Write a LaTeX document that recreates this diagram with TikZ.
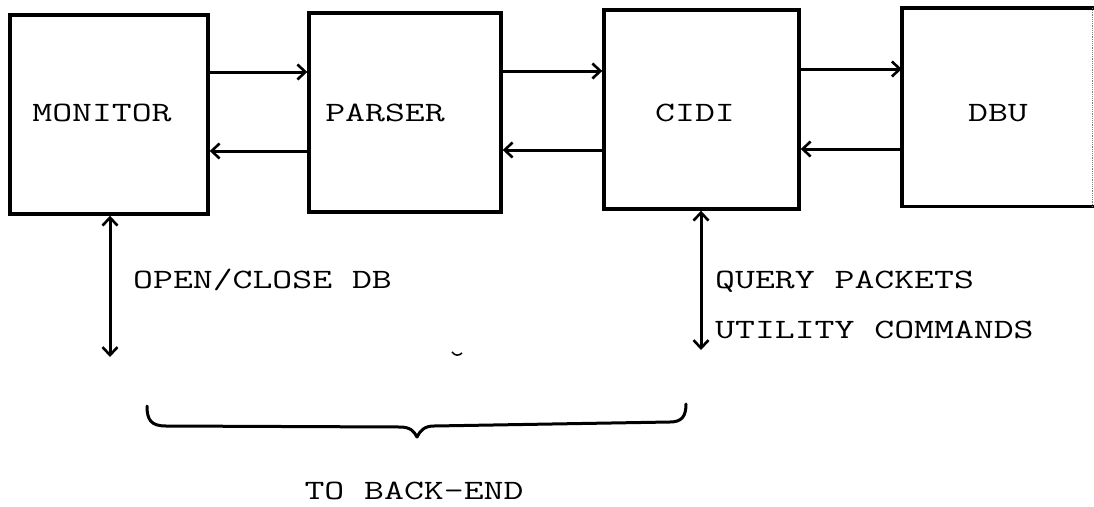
\documentclass[tikz,border=0pt]{standalone}
\usepackage{fontspec}
\usetikzlibrary{arrows.meta}
\newcommand{\twtext}[1]{\scalebox{1.38}[1]{\ttfamily\fontsize{28}{32}\selectfont #1}}
\begin{document}
\begin{tikzpicture}[x=1pt,y=-1pt,
  box/.style={draw,line width=3.4pt,inner sep=0pt},
  txt/.style={inner sep=0pt},
  tipb/.tip={Straight Barb[length=8pt,width=15pt,line width=2.6pt]},
  arr/.style={line width=3pt,-tipb},
  darr/.style={line width=3pt,tipb-tipb}]
\useasboundingbox (0,0) rectangle (1094,506);
% boxes
\node[box,minimum width=198pt,minimum height=199pt] (mon) at (109,114.5) {};
\node[box,minimum width=192pt,minimum height=199pt] (par) at (405,112.5) {};
\node[box,minimum width=195pt,minimum height=199pt] (cid) at (701.5,109.5) {};
\node[inner sep=0pt,minimum width=190pt,minimum height=198pt] (dbu) at (997,107) {};
\draw[line width=3.4pt,line cap=rect] (dbu.north east) -- (dbu.north west) -- (dbu.south west) -- (dbu.south east);
\draw[line width=1.2pt,densely dotted,gray] (dbu.north east) -- (dbu.south east);
% box texts
\node[txt,anchor=base] (montxt) at (102,121.5) {\twtext{MONITOR}};
\node[txt,anchor=base] (partxt) at (385,121.5) {\twtext{PARSER}};
\node[txt,anchor=base] (cidtxt) at (695,121.5) {\twtext{CIDI}};
\node[txt,anchor=base] (dbutxt) at (998,121.5) {\twtext{DBU}};
% arrow levels
\coordinate (a1) at (0,72);
\coordinate (b1) at (0,151);
\coordinate (a2) at (0,71);
\coordinate (b2) at (0,150);
\coordinate (a3) at (0,69);
\coordinate (b3) at (0,149);
\draw[arr] (mon.east |- a1) -- (par.west |- a1);
\draw[arr] (par.west |- b1) -- (mon.east |- b1);
\draw[arr] (par.east |- a2) -- (cid.west |- a2);
\draw[arr] (cid.west |- b2) -- (par.east |- b2);
\draw[arr] (cid.east |- a3) -- (dbu.west |- a3);
\draw[arr] (dbu.west |- b3) -- (cid.east |- b3);
% vertical arrows
\coordinate (monend) at (110,357);
\coordinate (cidend) at (701,350);
\draw[darr] (mon.south -| monend) -- (monend);
\draw[darr] (cid.south -| cidend) -- (cidend);
% labels
\node[txt,anchor=base west] (l1) at (133,288) {\twtext{OPEN/CLOSE DB}};
\node[txt,anchor=base west] (l2) at (715,288) {\twtext{QUERY PACKETS}};
\node[txt,anchor=base west] (l3) at (715,338) {\twtext{UTILITY COMMANDS}};
\node[txt,anchor=base] (l4) at (414,499) {\twtext{TO BACK-END}};
% brace
\draw[line width=3pt,line cap=round,line join=round]
  (147,406) .. controls (147,420) and (151,426) .. (166,426) -- (400,427)
  .. controls (410,427) and (414,431) .. (417,437)
  .. controls (420,431) and (424,426) .. (434,426) -- (670,422)
  .. controls (682,422) and (686,416) .. (686,404);
% smudge
\draw[line width=1.5pt] (452,352) .. controls (455,356) and (459,356) .. (462,353);
\end{tikzpicture}
\end{document}
